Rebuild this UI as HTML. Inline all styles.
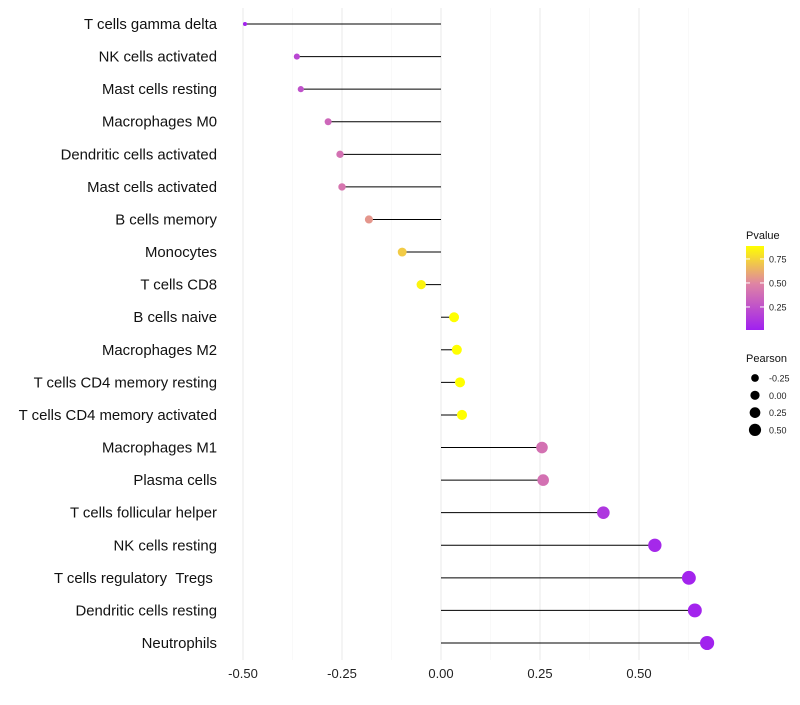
<!DOCTYPE html>
<html><head><meta charset="utf-8"><style>
body{margin:0;background:#fff;font-family:"Liberation Sans",sans-serif}
</style></head><body>
<svg id="chart" width="800" height="700" xmlns="http://www.w3.org/2000/svg">
<defs><linearGradient id="pg" x1="0" y1="1" x2="0" y2="0">
<stop offset="0" stop-color="#a020f0"/><stop offset="0.55" stop-color="#df84a4"/><stop offset="1" stop-color="#ffff00"/>
</linearGradient></defs>
</svg>
<script>
const cells=["T cells gamma delta","NK cells activated","Mast cells resting","Macrophages M0","Dendritic cells activated","Mast cells activated","B cells memory","Monocytes","T cells CD8","B cells naive","Macrophages M2","T cells CD4 memory resting","T cells CD4 memory activated","Macrophages M1","Plasma cells","T cells follicular helper","NK cells resting","T cells regulatory\u00a0\u00a0Tregs\u00a0","Dendritic cells resting","Neutrophils"];
const pearson=[-0.495,-0.364,-0.354,-0.285,-0.255,-0.25,-0.182,-0.098,-0.05,0.033,0.04,0.048,0.053,0.255,0.258,0.41,0.54,0.626,0.641,0.672];
const pvalues=[0.03,0.2,0.25,0.35,0.4,0.42,0.55,0.72,0.85,0.9,0.9,0.9,0.9,0.4,0.4,0.12,0.05,0.03,0.03,0.02];
const xTicks=[-0.5,-0.25,0,0.25,0.5];
const xTickLabels=["-0.50","-0.25","0.00","0.25","0.50"];
const pTicks=[0.25,0.5,0.75];
const sizeTicks=[-0.25,0,0.25,0.5];
const sizeLabels=["-0.25","0.00","0.25","0.50"];

const svg=document.getElementById('chart');
const NS="http://www.w3.org/2000/svg";
const x=v=>441+396*v;
const y=i=>24+i*(643-24)/19;
const r=v=>Math.sqrt(Math.max(1.5,23.5+39.2*v));
function lerp(a,b,t){return a.map((c,i)=>Math.round(c+(b[i]-c)*t));}
function col(p){const t=Math.min(1,Math.max(0,(p-0.01)/0.875));
 const A=[160,32,240],B=[223,132,164],C=[255,255,0];
 const c=t<0.55?lerp(A,B,t/0.55):lerp(B,C,(t-0.55)/0.45);return `rgb(${c})`;}
function mk(tag,attrs,parent){const e=document.createElementNS(NS,tag);for(const k in attrs)e.setAttribute(k,attrs[k]);(parent||svg).appendChild(e);return e;}

for(let k=-0.5;k<=0.63;k+=0.125){
 const major=Math.abs(k*4-Math.round(k*4))<1e-6;
 const g=mk('line',{x1:x(k),x2:x(k),y1:8,y2:660,stroke:major?'#ebebeb':'#f5f5f5','stroke-width':major?1.1:0.6});
 
 
}
xTicks.forEach((v,i)=>{
 const t=mk('text',{x:x(v),y:678,'text-anchor':'middle','font-size':13,fill:'#222'});t.textContent=xTickLabels[i];
 
 
});
cells.forEach((c,i)=>{
 const t=mk('text',{x:217,y:y(i)+5,'text-anchor':'end','font-size':14.9,fill:'#111'});t.textContent=c;
 
 
 const l=mk('line',{x1:x(0),x2:x(pearson[i]),y1:y(i),y2:y(i),stroke:'#000','stroke-width':1});
 
 
 const p=mk('circle',{cx:x(pearson[i]),cy:y(i),r:r(pearson[i]),fill:col(pvalues[i])});
 
 
});
const lt=mk('text',{x:746,y:239,'font-size':11,fill:'#111'});lt.textContent='Pvalue';


const cb=mk('rect',{x:746,y:246,width:18,height:84,fill:'url(#pg)'});


const py=p=>330-(p-0.01)/0.875*84;
pTicks.forEach(p=>{
 mk('line',{x1:746,x2:750,y1:py(p),y2:py(p),stroke:'#fff','stroke-width':1});
 mk('line',{x1:760,x2:764,y1:py(p),y2:py(p),stroke:'#fff','stroke-width':1});
 const t=mk('text',{x:769,y:py(p)+3.5,'font-size':9,fill:'#222'});t.textContent=p.toFixed(2);
 
 
});
const st=mk('text',{x:746,y:362,'font-size':11,fill:'#111'});st.textContent='Pearson';


sizeTicks.forEach((v,i)=>{
 const cy=378+i*17.3;
 const c=mk('circle',{cx:755,cy:cy,r:4.6+v*3,fill:'#000'});
 
 
 const t=mk('text',{x:769,y:cy+3.5,'font-size':9,fill:'#222'});t.textContent=sizeLabels[i];
 
 
});
</script>
</body></html>
